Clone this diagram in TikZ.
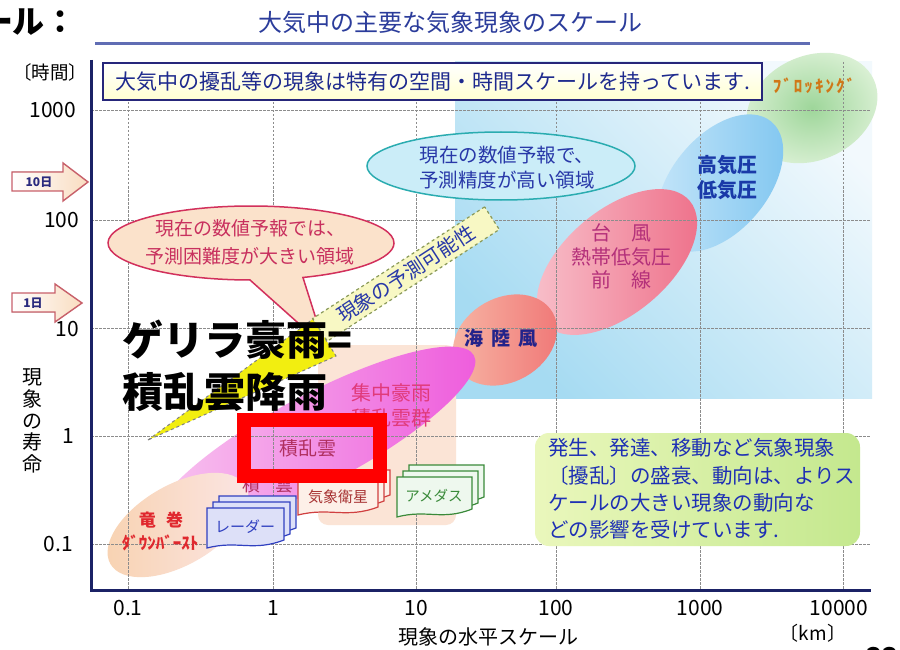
\documentclass[tikz,border=0pt]{standalone}
\usepackage{fontspec}
\setmainfont{Noto Sans CJK JP}
\usetikzlibrary{shapes.geometric}
\definecolor{navy}{HTML}{1B2266}
\definecolor{titleblue}{HTML}{2B3C9B}
\definecolor{notebd}{HTML}{26267A}
\definecolor{notetx}{HTML}{1E2A8E}
\definecolor{gridc}{HTML}{8C8C8C}
\definecolor{bgA}{HTML}{A6DBF2}
\definecolor{bgB}{HTML}{F2F9FD}
\definecolor{greenA}{HTML}{9ED69A}
\definecolor{greenB}{HTML}{DCF1D6}
\definecolor{blueA}{HTML}{80C6F0}
\definecolor{blueB}{HTML}{C6E6F9}
\definecolor{pinkA}{HTML}{EE6E88}
\definecolor{pinkB}{HTML}{F8C2CC}
\definecolor{salA}{HTML}{F07676}
\definecolor{salB}{HTML}{F7B8A6}
\definecolor{magA}{HTML}{EE5ADC}
\definecolor{magB}{HTML}{F8C8F0}
\definecolor{peach}{HTML}{FBE4D6}
\definecolor{tornA}{HTML}{F8D2B0}
\definecolor{tornB}{HTML}{FBE6E6}
\definecolor{tealbd}{HTML}{2AACB0}
\definecolor{tealfill}{HTML}{CBEDF8}
\definecolor{bubfill}{HTML}{FBE2CB}
\definecolor{bubdraw}{HTML}{D2305C}
\definecolor{bubtext}{HTML}{C8305E}
\definecolor{wedgeY}{HTML}{F2EE10}
\definecolor{bandfill}{HTML}{F8F8C4}
\definecolor{banddraw}{HTML}{8A9A5A}
\definecolor{bandtext}{HTML}{2838A8}
\definecolor{gboxA}{HTML}{EAF7BC}
\definecolor{gboxB}{HTML}{C4E88E}
\definecolor{gtext}{HTML}{1E30B4}
\definecolor{arrowbd}{HTML}{C8606A}
\definecolor{arrowfill}{HTML}{F9DCC0}
\definecolor{arrowtx}{HTML}{2A2A7E}
\definecolor{typhtx}{HTML}{B4307A}
\definecolor{hightx}{HTML}{1A3AA8}
\definecolor{seatx}{HTML}{23238A}
\definecolor{cbtx}{HTML}{E03A7A}
\definecolor{cbtx2}{HTML}{B03060}
\definecolor{torntx}{HTML}{E0282E}
\definecolor{blocktx}{HTML}{D07818}
\definecolor{radbd}{HTML}{3040C0}
\definecolor{radfill}{HTML}{DDE0F8}
\definecolor{satbd}{HTML}{D04040}
\definecolor{satfill}{HTML}{FDF0E8}
\definecolor{amebd}{HTML}{3A8A3A}
\definecolor{amefill}{HTML}{EEF8EE}
\newcommand{\fsz}[2]{\fontsize{#1}{#2}\selectfont}
\newcommand{\mysheet}[6]{%
  \filldraw[draw=#5, fill=#6, line width=1.2] (#1,#2) -- ++(#3,0) -- ++(0,#4-8)
    .. controls +(-0.4*#3,12) and +(0.4*#3,-8) .. (#1,#2+#4) -- cycle;}
\newcommand{\mystack}[6]{%
  \mysheet{#1+12}{#2-12}{#3}{#4}{#5}{#6}%
  \mysheet{#1+6}{#2-6}{#3}{#4}{#5}{#6}%
  \mysheet{#1}{#2}{#3}{#4}{#5}{#6}}
\begin{document}
\begin{tikzpicture}[x=1pt,y=-1pt, every node/.style={inner sep=0pt, outer sep=0pt},
  gridline/.style={draw=gridc, line width=0.9, dash pattern=on 2.5pt off 1.5pt},
  arrowbox/.style={draw=arrowbd, line width=1.4, left color=white, right color=arrowfill}]
\useasboundingbox (0,0) rectangle (900,650);
\fill[white] (0,0) rectangle (900,650);
% light blue background region
\shade[top color=bgB, bottom color=bgA, shading angle=-45] (455,62) rectangle (872,398);
% blobs
\node[ellipse, rotate=25, minimum width=136, minimum height=104, inner color=greenA, outer color=greenB] (blockblob) at (812,108) {};
\node[ellipse, rotate=50, minimum width=160, minimum height=96, left color=blueB, right color=blueA] (highblob) at (720,183) {};
\node[ellipse, rotate=40, minimum width=190, minimum height=104, left color=pinkB, right color=pinkA] (typhblob) at (617,262) {};
\fill[peach, rounded corners=10] (318,345) rectangle (456,525);
\node[ellipse, rotate=30, minimum width=110, minimum height=84, left color=salB, right color=salA] (seablob) at (505,340) {};
\node[ellipse, rotate=28, minimum width=360, minimum height=90, left color=magB, right color=magA] (cbblob) at (315,440) {};
\node[ellipse, rotate=30, minimum width=156, minimum height=80, left color=tornA, right color=tornB] (tornblob) at (178,525) {};
% grid
\foreach \gx in {128,273,416,556,700,843} \draw[gridline] (\gx,62) -- (\gx,590);
\foreach \gy in {110,220,328,436,544} \draw[gridline] (91,\gy) -- (870,\gy);
% axes
\draw[navy, line width=3] (91,60) -- (91,590) -- (871,590);
% note box
\node[draw=notebd, line width=1.5, top color=white, bottom color=yellow!18, minimum width=659, minimum height=37, text=notetx, font=\fsz{21}{24}] (note) at (432.5,81.5) {大気中の擾乱等の現象は特有の空間・時間スケールを持っています.};
% accuracy ellipse
\node[ellipse, draw=tealbd, line width=1.5, fill=tealfill, minimum width=268, minimum height=68] (accell) at (501,166) {};
\node[align=center, text=bandtext, font=\fsz{19.5}{25}] (acctext) at (507,167.5) {現在の数値予報で、\\予測精度が高い領域};
% speech bubble
\filldraw[fill=bubfill, draw=bubdraw, line width=1.5] (251,243) ++(90.4:143 and 37)
  arc[start angle=90.4, end angle=428.7, x radius=143, y radius=37] -- (325,347) -- cycle;
\node[align=center, text=bubtext, font=\fsz{19}{28}] (bubtxt) at (250,242) {現在の数値予報では、\\予測困難度が大きい領域};
% predictability wedge and band
\filldraw[fill=wedgeY, draw=gray, dashed, line width=1] (148,440) -- (313,319) -- (336,356) -- cycle;
\node[draw=banddraw, dashed, line width=1.2, fill=bandfill, rotate=33, minimum width=205, minimum height=27, text=bandtext, font=\fsz{20}{22}] (predict) at (406,274) {現象の予測可能性};
% blob texts
\node[text=blocktx, font=\bfseries\fsz{17}{18}\addfontfeatures{LetterSpace=12}] (blocktxt) at (814,86) {ﾌﾞﾛｯｷﾝｸﾞ};
\node[align=center, text=hightx, font=\bfseries\fsz{20}{25}] (hightxt) at (727,177.5) {高気圧\\低気圧};
\node[align=center, text=typhtx, font=\fsz{20}{23.5}] (typhtxt) at (621,256.5) {台\hspace{1em}風\\熱帯低気圧\\前\hspace{1em}線};
\node[text=seatx, font=\bfseries\fsz{19}{22}] (seatxt) at (501,338) {海\hspace{8pt}陸\hspace{8pt}風};
\node[align=center, text=cbtx, font=\fsz{20}{25}] (cbgtxt) at (391,405.5) {集中豪雨\\積乱雲群};
\node[text=cbtx2, font=\fsz{19}{22}] (cbtxt) at (308,448) {積乱雲};
\node[text=cbtx2, font=\fsz{18}{20}] (cutxt) at (268,485) {積\hspace{0.8em}雲};
\node[text=torntx, font=\bfseries\fsz{17}{20}] (torntxt) at (161,520) {竜\hspace{0.6em}巻};
\node[text=torntx, font=\bfseries\fsz{17}{20}] (dbtxt) at (160,543) {ﾀﾞｳﾝﾊﾞｰｽﾄ};
% observation icons
\mystack{207}{508}{77}{40}{radbd}{radfill}
\node[text=radbd, font=\fsz{15}{17}] (radar) at (245,527) {レーダー};
\mystack{298}{482}{80}{33}{satbd}{satfill}
\node[text=satbd!80!black, font=\fsz{15}{17}] (sat) at (338,497) {気象衛星};
\mystack{397}{477}{75}{40}{amebd}{amefill}
\node[text=amebd, font=\fsz{14.5}{17}] (amedas) at (434,496) {アメダス};
% green explanation box
\shade[left color=gboxA, right color=gboxB, rounded corners=14] (535,433) rectangle (860,546);
\node[anchor=west, align=left, text=gtext, font=\fsz{20.5}{27.3}] (gtxt) at (548,489) {発生、発達、移動など気象現象\\〔擾乱〕の盛衰、動向は、よりス\\ケールの大きい現象の動向な\\どの影響を受けています.};
% highlight
\draw[red, line width=14] (244,420) rectangle (380,476);
\node[anchor=west, font=\bfseries\fsz{41}{46}] (guerr1) at (122,340) {ゲリラ豪雨=};
\node[anchor=west, font=\bfseries\fsz{41}{46}] (guerr2) at (122,392) {積乱雲降雨};
% axis labels
\node[font=\fsz{18.5}{20}] (tlab) at (50,72) {〔時間〕};
\node[anchor=east, font=\fsz{21}{24}] (y1000) at (76,110) {1000};
\node[anchor=east, font=\fsz{21}{24}] (y100) at (79,220) {100};
\node[anchor=east, font=\fsz{21}{24}] (y10) at (79,329) {10};
\node[anchor=east, font=\fsz{21}{24}] (y1) at (74,436) {1};
\node[anchor=east, font=\fsz{21}{24}] (y01) at (73,544) {0.1};
\filldraw[arrowbox] (12,172) -- (63,172) -- (63,163) -- (88,182) -- (63,201) -- (63,191) -- (12,191) -- cycle;
\node[text=arrowtx, font=\bfseries\fsz{12}{14}] (d10) at (39,182) {10日};
\filldraw[arrowbox] (12,293) -- (55,293) -- (55,284) -- (82,303) -- (55,322) -- (55,312) -- (12,312) -- cycle;
\node[text=arrowtx, font=\bfseries\fsz{12}{14}] (d1) at (33,303) {1日};
\node[align=center, font=\fsz{20}{21.75}] (lifelab) at (32,421) {現\\象\\の\\寿\\命};
\node[font=\fsz{21}{24}] (x01) at (128,608) {0.1};
\node[font=\fsz{21}{24}] (x1) at (273,608) {1};
\node[font=\fsz{21}{24}] (x10) at (416,608) {10};
\node[font=\fsz{21}{24}] (x100) at (556,608) {100};
\node[font=\fsz{21}{24}] (x1000) at (700,608) {1000};
\node[font=\fsz{21}{24}] (x10000) at (839,608) {10000};
\node[font=\fsz{20}{22}] (xlab) at (488,637) {現象の水平スケール};
\node[font=\fsz{19}{22}] (kmlab) at (813,633) {〔km〕};
% title
\node[text=titleblue, font=\fsz{24}{28}] (title) at (450,22) {大気中の主要な気象現象のスケール};
\draw[line width=2.5, color=titleblue!75!white] (95,43.5) -- (810,43.5);
\node[anchor=west, font=\bfseries\fsz{32}{36}] (cut) at (-19,22) {ール：};
\node[font=\bfseries\fsz{26}{30}] (pagenum) at (882,657) {33};
\end{tikzpicture}
\end{document}
